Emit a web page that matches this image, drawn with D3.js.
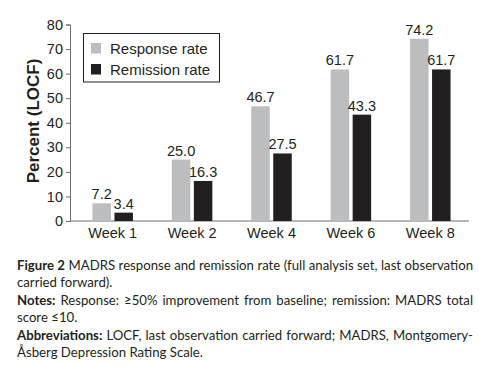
<!DOCTYPE html>
<html>
<head>
<meta charset="utf-8">
<script src="https://cdn.jsdelivr.net/npm/d3@7"></script>
<style>
  body { margin: 0; background: #fff; }
  svg { display: block; }
</style>
</head>
<body>
<svg id="chart" width="479" height="365"></svg>
<script>
// chart values
const weeks = ["Week 1", "Week 2", "Week 4", "Week 6", "Week 8"]
const responseRate = [7.2, 25.0, 46.7, 61.7, 74.2]
const remissionRate = [3.4, 16.3, 27.5, 43.3, 61.7]
const seriesNames = ["Response rate", "Remission rate"]
const seriesColors = ["#bcbdbf", "#231f20"]
const yTicks = [0, 10, 20, 30, 40, 50, 60, 70, 80]

// caption lines: [bold part, normal part, justify?]
const captionLines = [
  ["Figure 2", " MADRS response and remission rate (full analysis set, last observation", true],
  ["", "carried forward).", false],
  ["Notes:", " Response: \u226550% improvement from baseline; remission: MADRS total", true],
  ["", "score \u226410.", false],
  ["Abbreviations:", " LOCF, last observation carried forward; MADRS, Montgomery-", true],
  ["", "\u00c5sberg Depression Rating Scale.", false]
]

const svg = d3.select("#chart")
const font = "Liberation Sans, Arial, sans-serif"

const x = d3.scaleBand().domain(weeks).range([73, 470]).paddingInner(0).paddingOuter(0)
const y = d3.scaleLinear().domain([0, 80]).range([221, 24.5])

const barW = 18.5, gap = 3.5

// y axis
const yAxis = svg.append("g")
  .attr("transform", "translate(70,0)")
  .call(d3.axisLeft(y).tickValues(yTicks).tickSize(4).tickPadding(3))
yAxis.select(".domain").attr("stroke", "#6d6e70")
yAxis.selectAll(".tick line").attr("stroke", "#6d6e70")
yAxis.selectAll("text").attr("font-family", font).attr("font-size", 14.5).attr("fill", "#231f20")

// x axis
svg.append("line")
  .attr("x1", 70).attr("x2", 469)
  .attr("y1", y(0)).attr("y2", y(0))
  .attr("stroke", "#6d6e70")

svg.selectAll(".xlab")
  .data(weeks)
  .enter().append("text")
  .attr("x", d => x(d) + x.bandwidth() / 2)
  .attr("y", 238)
  .attr("text-anchor", "middle")
  .attr("font-family", font).attr("font-size", 14.5).attr("fill", "#231f20")
  .text(d => d)

// bars
const series = [responseRate, remissionRate]
series.forEach((vals, s) => {
  const offset = s === 0 ? -barW - gap / 2 : gap / 2
  svg.selectAll(".bar" + s)
    .data(vals)
    .enter().append("rect")
    .attr("x", (d, i) => x(weeks[i]) + x.bandwidth() / 2 + offset)
    .attr("y", d => y(d))
    .attr("width", barW)
    .attr("height", d => y(0) - y(d))
    .attr("fill", seriesColors[s])

  svg.selectAll(".val" + s)
    .data(vals)
    .enter().append("text")
    .attr("x", (d, i) => x(weeks[i]) + x.bandwidth() / 2 + offset + barW / 2)
    .attr("y", d => y(d) - 4)
    .attr("text-anchor", "middle")
    .attr("font-family", font).attr("font-size", 14.5).attr("fill", "#231f20")
    .text(d => d.toFixed(1))
})

// y title
svg.append("text")
  .attr("transform", "translate(39,121) rotate(-90)")
  .attr("text-anchor", "middle")
  .attr("font-family", font).attr("font-size", 17).attr("font-weight", "bold")
  .attr("fill", "#231f20")
  .text("Percent (LOCF)")

// legend
const lg = svg.append("g")
lg.append("rect")
  .attr("x", 83.5).attr("y", 33.5).attr("width", 136).attr("height", 48.5)
  .attr("fill", "#fff").attr("stroke", "#231f20")
seriesNames.forEach((n, i) => {
  lg.append("rect")
    .attr("x", 91).attr("y", 43 + i * 21).attr("width", 10).attr("height", 10.5)
    .attr("fill", seriesColors[i])
  lg.append("text")
    .attr("x", 110).attr("y", 53.5 + i * 21)
    .attr("font-family", font).attr("font-size", 15).attr("fill", "#231f20")
    .text(n)
})

// caption, justified lines get word-spacing
const cap = svg.append("g")
captionLines.forEach((ln, i) => {
  const t = cap.append("text")
    .attr("x", 17).attr("y", 270 + i * 17.4)
    .attr("font-family", "Lato, sans-serif").attr("font-size", 13.2)
    .attr("fill", "#231f20")
  if (ln[0]) t.append("tspan").attr("font-weight", "bold").text(ln[0])
  t.append("tspan").text(ln[1])
  if (ln[2]) {
    const len = t.node().getComputedTextLength()
    const spaces = (ln[0] + ln[1]).split(" ").length - 1
    t.attr("word-spacing", (456 - len) / spaces)
  }
})
</script>
</body>
</html>
